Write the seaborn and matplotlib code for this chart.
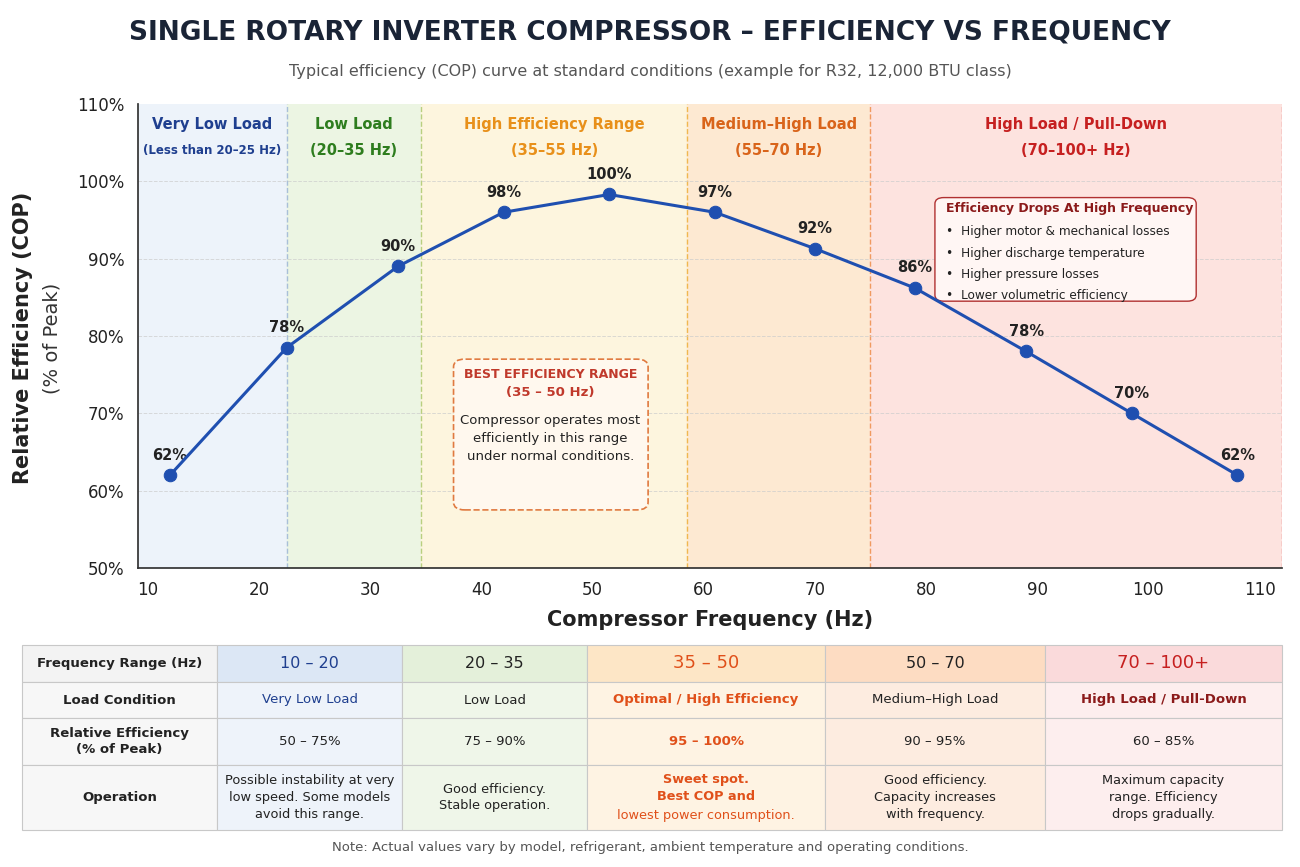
import numpy as np
import pandas as pd
import matplotlib.pyplot as plt
from matplotlib.patches import Rectangle, FancyBboxPatch
import seaborn as sns

# Curve data
freq = [12, 22.5, 32.5, 42, 51.5, 61, 70, 79, 89, 98.5, 108]
eff = [62, 78.5, 89, 96, 98.3, 96, 91.3, 86.2, 78, 70, 62]
eff_labels = ['62%', '78%', '90%', '98%', '100%', '97%', '92%', '86%', '78%', '70%', '62%']

# Load bands
band_edges = [9.1, 22.5, 34.6, 58.5, 75, 112]
band_colors = ['#edf3fa', '#ecf5e3', '#fdf5de', '#fde9d2', '#fde3df']
band_titles = ['Very Low Load', 'Low Load', 'High Efficiency Range', 'Medium\u2013High Load', 'High Load / Pull-Down']
band_subs = ['(Less than 20\u201325 Hz)', '(20\u201335 Hz)', '(35\u201355 Hz)', '(55\u201370 Hz)', '(70\u2013100+ Hz)']
band_text_colors = ['#1f3f8f', '#2e7d1e', '#e8901a', '#d9641a', '#c62020']
band_line_colors = ['#a9bfd9', '#b9cf80', '#f0b850', '#f09a60', '#e07070']

# Table data
col_headers = ['Frequency Range (Hz)', '10 \u2013 20', '20 \u2013 35', '35 \u2013 50', '50 \u2013 70', '70 \u2013 100+']
load_row = ['Load Condition', 'Very Low Load', 'Low Load', 'Optimal / High Efficiency', 'Medium\u2013High Load', 'High Load / Pull-Down']
eff_row = ['Relative Efficiency\n(% of Peak)', '50 \u2013 75%', '75 \u2013 90%', '95 \u2013 100%', '90 \u2013 95%', '60 \u2013 85%']
op_row = ['Operation', 'Possible instability at very\nlow speed. Some models\navoid this range.',
          'Good efficiency.\nStable operation.', 'Sweet spot.\nBest COP and\nlowest power consumption.',
          'Good efficiency.\nCapacity increases\nwith frequency.', 'Maximum capacity\nrange. Efficiency\ndrops gradually.']

sns.set_theme(style='white')
plt.rcParams['font.family'] = ['DejaVu Sans']

fig = plt.figure(figsize=(13, 8.67), dpi=100)
ax = fig.add_axes([0.106, 0.345, 0.88, 0.535])

for i in range(5):
    ax.axvspan(band_edges[i], band_edges[i + 1], color=band_colors[i], zorder=0)
    xm = (band_edges[i] + band_edges[i + 1]) / 2
    ax.text(xm, 107.3, band_titles[i], ha='center', va='center', fontsize=10.5, fontweight='semibold',
            color=band_text_colors[i])
    ax.text(xm, 104.0, band_subs[i], ha='center', va='center', fontsize=8.5 if i == 0 else 10.5,
            fontweight='semibold', color=band_text_colors[i])
for i in range(1, 6):
    ax.axvline(band_edges[i], color=band_line_colors[i - 1], ls='--', lw=1, zorder=1)

for yv in range(60, 110, 10):
    ax.axhline(yv, color='#cccccc', ls='--', lw=0.7, alpha=0.7, zorder=1)

df = pd.DataFrame({'freq': freq, 'eff': eff})
sns.lineplot(data=df, x='freq', y='eff', ax=ax, color='#1f4fb0', lw=2.2, marker='o',
             markersize=9, markeredgecolor='#1f4fb0', zorder=5)
for x, y, lab in zip(freq, eff, eff_labels):
    ax.text(x, y + 2.6, lab, ha='center', va='center', fontsize=10.5, fontweight='bold', color='#222222')

ax.set_xlim(9.1, 112)
ax.set_ylim(50, 110)
ax.set_xticks(range(10, 111, 10))
ax.set_yticks(range(50, 111, 10))
ax.set_yticklabels([f'{v}%' for v in range(50, 111, 10)])
ax.tick_params(labelsize=12, colors='#222222')
ax.set_xlabel('Compressor Frequency (Hz)', fontsize=15, fontweight='semibold', labelpad=8, color='#222222')
ax.set_ylabel('')
for s in ['top', 'right']:
    ax.spines[s].set_visible(False)
ax.spines['left'].set_color('#333333')
ax.spines['bottom'].set_color('#333333')
fig.text(0.018, 0.61, 'Relative Efficiency (COP)', rotation=90, ha='center', va='center',
         fontsize=15, fontweight='bold', color='#222222')
fig.text(0.040, 0.61, '(% of Peak)', rotation=90, ha='center', va='center', fontsize=14, color='#333333')

# Best efficiency box
ax.add_patch(FancyBboxPatch((37.5, 57.5), 17.5, 19.5, boxstyle='round,pad=0,rounding_size=1',
                            fc='#fff8ee', ec='#e07a40', ls='--', lw=1.2, zorder=3))
ax.text(46.2, 74.6, 'BEST EFFICIENCY RANGE', ha='center', fontsize=9, fontweight='bold', color='#c0392b', zorder=4)
ax.text(46.2, 72.2, '(35 \u2013 50 Hz)', ha='center', fontsize=9.5, fontweight='bold', color='#c0392b', zorder=4)
ax.text(46.2, 64.0, 'Compressor operates most\nefficiently in this range\nunder normal conditions.',
        ha='center', fontsize=9.5, color='#222222', linespacing=1.5, zorder=4)

# High-frequency box
ax.add_patch(FancyBboxPatch((80.8, 84.5), 23.5, 13.4, boxstyle='round,pad=0,rounding_size=0.8',
                            fc='#fff6f4', ec='#b03030', lw=1, zorder=3))
ax.text(81.8, 96.0, 'Efficiency Drops At High Frequency', fontsize=9, fontweight='bold', color='#8b1a1a', zorder=4)
for k, t in enumerate(['Higher motor & mechanical losses', 'Higher discharge temperature',
                       'Higher pressure losses', 'Lower volumetric efficiency']):
    ax.text(81.8, 93.0 - k * 2.75, '\u2022  ' + t, fontsize=8.7, color='#222222', zorder=4)

fig.text(0.5, 0.962, 'SINGLE ROTARY INVERTER COMPRESSOR \u2013 EFFICIENCY VS FREQUENCY', ha='center',
         va='center', fontsize=19, fontweight='bold', color='#1a2436')
fig.text(0.5, 0.918, 'Typical efficiency (COP) curve at standard conditions (example for R32, 12,000 BTU class)',
         ha='center', va='center', fontsize=11.5, color='#555555')

# Table drawn in pixel coordinates
W, H = 1300, 867
col_x = [22, 217, 402, 587, 825, 1045, 1282]
row_y = [645, 682, 718, 765, 830]
head_colors = ['#f3f3f3', '#dce7f5', '#e4f0da', '#fde6c6', '#fddcc2', '#fadadb']
body_colors = ['#f7f7f7', '#eef3fa', '#eff6e9', '#fef3e3', '#fdece0', '#fdeeee']
text_colors = ['#222222', '#1f3f8f', '#222222', '#e0501a', '#222222', '#8b1a1a']
rows = [col_headers, load_row, eff_row, op_row]
for r in range(4):
    for c in range(6):
        x0, x1 = col_x[c], col_x[c + 1]
        y0, y1 = row_y[r], row_y[r + 1]
        fc = head_colors[c] if r == 0 else body_colors[c]
        fig.patches.append(Rectangle((x0 / W, 1 - y1 / H), (x1 - x0) / W, (y1 - y0) / H,
                                     transform=fig.transFigure, fc=fc, ec='#c8c8c8', lw=0.8))
        txt = rows[r][c]
        bold = c == 0 or (c == 3 and r == 3)
        col = text_colors[c]
        if c == 5 and r == 0:
            col = '#c62020'
        if c == 5 and r in (2, 3):
            col = '#222222'
        if c == 1 and r in (2, 3):
            col = '#222222'
        fs = 9.5
        if r == 0 and c > 0:
            fs = 11.5 if c not in (3, 5) else 13
        if r == 3 and c > 0:
            fs = 9.3
        w = 'bold' if bold or (c == 3 and r > 0) or (c == 5 and r == 1) else 'normal'
        if c == 3 and r == 3:
            fig.text((x0 + x1) / 2 / W, 1 - 788 / H, 'Sweet spot.\nBest COP and', ha='center', va='center',
                     fontsize=fs, fontweight='bold', color=col, linespacing=1.4)
            fig.text((x0 + x1) / 2 / W, 1 - 816 / H, 'lowest power consumption.', ha='center', va='center',
                     fontsize=fs, color=col)
            continue
        fig.text((x0 + x1) / 2 / W, 1 - (y0 + y1) / 2 / H, txt, ha='center', va='center', fontsize=fs,
                 fontweight=w, color=col, linespacing=1.4)

fig.text(0.5, 1 - 848 / H, 'Note: Actual values vary by model, refrigerant, ambient temperature and operating conditions.',
         ha='center', va='center', fontsize=9.5, color='#555555')

fig.savefig('out.png', dpi=100)
plt.close()
